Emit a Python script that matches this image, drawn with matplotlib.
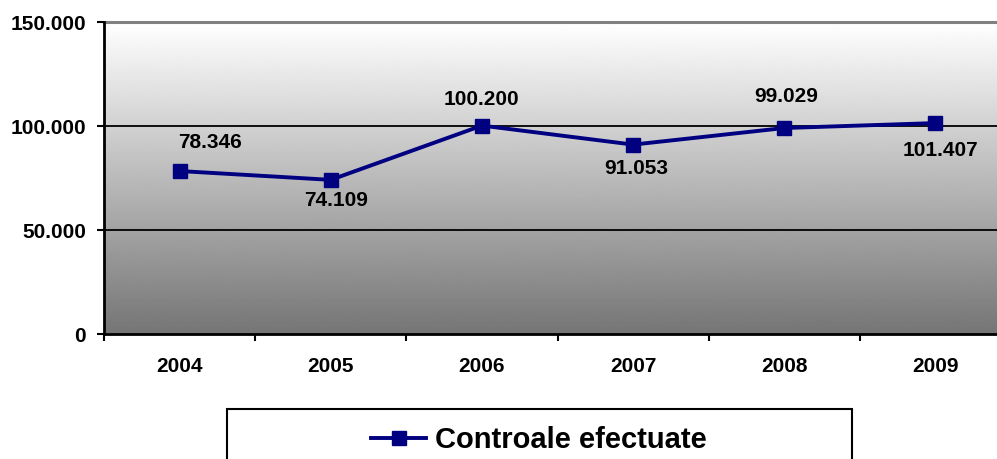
import numpy as np
import matplotlib.pyplot as plt
from matplotlib.patches import Rectangle
from matplotlib.ticker import FixedLocator, FuncFormatter

# data
years = ['2004', '2005', '2006', '2007', '2008', '2009']
controale = [78346, 74109, 100200, 91053, 99029, 101407]
labels = ['78.346', '74.109', '100.200', '91.053', '99.029', '101.407']

# label offsets in pixels (dx, dy)
offsets = [(30, 29), (5, -21), (0, 26), (3, -24), (2, 32), (5, -27)]

plt.rcParams['font.family'] = ['Liberation Sans', 'DejaVu Sans']
plt.rcParams['font.weight'] = 'bold'

fig = plt.figure(figsize=(9.97, 4.59), dpi=100)
ax = fig.add_axes([104 / 997, 125 / 459, 907 / 997, 312 / 459])

x = np.arange(len(years))
ax.set_xlim(-0.5, len(years) - 0.5)
ax.set_ylim(0, 150000)

# gradient background, white at top to gray at bottom
grad = np.linspace(0.46, 1.0, 256).reshape(-1, 1)
ax.imshow(grad, extent=(-0.5, len(years) - 0.5, 0, 150000), origin='lower',
          aspect='auto', cmap='gray', vmin=0, vmax=1, zorder=0)

for v in [50000, 100000]:
    ax.axhline(v, color='black', lw=1.3, zorder=1)
ax.axhline(150000, color='#808080', lw=2.2, zorder=1, clip_on=False)

ax.plot(x, controale, color='#000080', lw=2.8, marker='s', markersize=10.5,
        zorder=3, label='Controale efectuate', clip_on=False)

for xi, yi, t, (dx, dy) in zip(x, controale, labels, offsets):
    ax.annotate(t, (xi, yi), xytext=(dx, dy), textcoords='offset pixels',
                ha='center', va='center', fontsize=15, fontweight='bold')

for s in ['top', 'right']:
    ax.spines[s].set_visible(False)
ax.spines['left'].set_linewidth(2)
ax.spines['bottom'].set_linewidth(2)

ax.set_yticks([0, 50000, 100000, 150000])
ax.yaxis.set_major_formatter(FuncFormatter(lambda v, p: f'{int(v):,}'.replace(',', '.')))
ax.tick_params(axis='y', length=5, width=1.5, pad=8, labelsize=15)

ax.xaxis.set_major_locator(FixedLocator(np.arange(-0.5, len(years), 1.0)))
ax.xaxis.set_minor_locator(FixedLocator(x))
ax.set_xticklabels([], minor=False)
ax.set_xticklabels(years, minor=True)
ax.tick_params(axis='x', which='major', length=5, width=1.5)
ax.tick_params(axis='x', which='minor', length=0, pad=16.5, labelsize=15)

# legend box at the bottom
fig.patches.append(Rectangle((227 / 997, -0.03), 625 / 997, 0.14, transform=fig.transFigure,
                             fill=False, edgecolor='black', lw=1.5))
fig.legend(loc='center', bbox_to_anchor=(539 / 997, 0.041), frameon=False,
           fontsize=21, handlelength=1.9, handletextpad=0.3)

fig.savefig('out.png', dpi=100)
